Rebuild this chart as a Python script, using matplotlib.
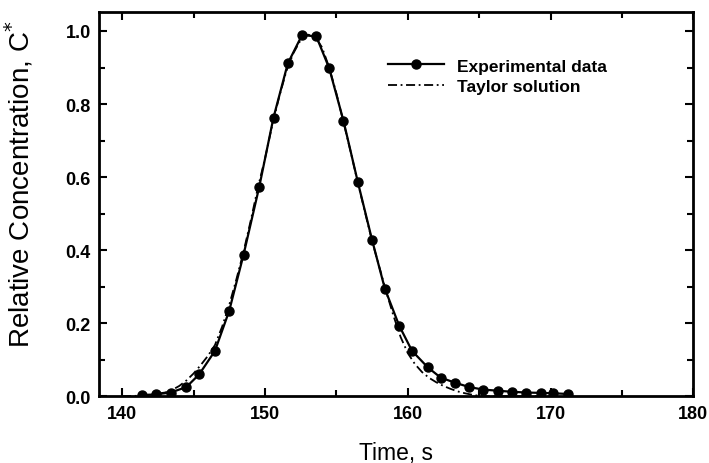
import matplotlib
matplotlib.use("Agg")
import matplotlib.pyplot as plt
from matplotlib.ticker import MultipleLocator

# Experimental data
exp_time = [141.4, 142.4, 143.4, 144.5, 145.4, 146.5, 147.5, 148.5, 149.6, 150.6,
            151.6, 152.6, 153.6, 154.5, 155.5, 156.5, 157.5, 158.4, 159.4, 160.3,
            161.4, 162.3, 163.3, 164.3, 165.3, 166.3, 167.3, 168.3, 169.3, 170.2, 171.2]
exp_conc = [0.003, 0.005, 0.010, 0.025, 0.060, 0.124, 0.234, 0.387, 0.573, 0.763,
            0.911, 0.989, 0.985, 0.898, 0.754, 0.587, 0.428, 0.294, 0.193, 0.124,
            0.079, 0.051, 0.037, 0.025, 0.018, 0.015, 0.012, 0.010, 0.009, 0.008, 0.006]

# Taylor solution
tay_time = [140.0, 141.0, 142.0, 143.0, 143.5, 144.0, 144.5, 145.0, 145.5, 146.0,
            146.5, 147.0, 147.5, 148.0, 148.5, 149.0, 149.5, 150.0, 150.5, 151.0,
            151.5, 152.0, 152.5, 153.0, 153.5, 154.0, 154.5, 155.0, 155.5, 156.0,
            156.5, 157.0, 157.5, 158.0, 158.5, 159.0, 159.5, 160.0, 160.5, 161.0,
            161.5, 162.0, 162.5, 163.0, 163.5, 164.0, 164.5, 165.0, 165.5, 166.0, 170.0]
tay_conc = [0.000, 0.001, 0.004, 0.010, 0.017, 0.028, 0.043, 0.062, 0.085, 0.110,
            0.140, 0.190, 0.250, 0.320, 0.395, 0.480, 0.570, 0.650, 0.740, 0.820,
            0.890, 0.940, 0.975, 0.990, 0.985, 0.955, 0.900, 0.830, 0.750, 0.670,
            0.585, 0.505, 0.425, 0.355, 0.285, 0.220, 0.162, 0.118, 0.088, 0.066,
            0.050, 0.038, 0.028, 0.020, 0.013, 0.008, 0.004, 0.001, 0.000, 0.000, 0.000]

x_ticks = [140, 150, 160, 170, 180]
y_ticks = [0.0, 0.2, 0.4, 0.6, 0.8, 1.0]

plt.rcParams['font.family'] = ['Liberation Sans', 'DejaVu Sans']

fig = plt.figure(figsize=(7.09, 4.64), dpi=100)
ax = fig.add_axes([0.140, 0.144, 0.838, 0.828])

ax.plot(exp_time, exp_conc, '-', color='black', lw=1.6, marker='o', ms=6.5,
        label='Experimental data')
ax.plot(tay_time, tay_conc, color='black', lw=1.3, linestyle=(0, (5, 2, 1, 2)),
        label='Taylor solution')

ax.set_xlim(138.4, 180.0)
ax.set_ylim(0.0, 1.052)
ax.set_xticks(x_ticks)
ax.set_yticks(y_ticks)
ax.set_xticklabels([str(v) for v in x_ticks])
ax.set_yticklabels([f"{v:.1f}" for v in y_ticks])
ax.xaxis.set_minor_locator(MultipleLocator(5))
ax.yaxis.set_minor_locator(MultipleLocator(0.1))

ax.tick_params(which='both', direction='in', top=True, right=True, width=1.5,
               labelsize=13, pad=6)
ax.tick_params(which='major', length=6)
ax.tick_params(which='minor', length=4)
for lab in ax.get_xticklabels() + ax.get_yticklabels():
    lab.set_fontweight('bold')
for s in ax.spines.values():
    s.set_linewidth(2)

ax.set_xlabel('Time, s', fontsize=16.5, labelpad=14)
ax.set_ylabel('Relative Concentration, C$^{*}$', fontsize=20)
ax.yaxis.set_label_coords(-0.108, 0.555)

ax.legend(loc='upper left', bbox_to_anchor=(0.46, 0.92), frameon=False,
          handlelength=3.2, handletextpad=0.75, labelspacing=0.3,
          prop={'weight': 'bold', 'size': 12.5})

fig.savefig('out.png', dpi=100)
